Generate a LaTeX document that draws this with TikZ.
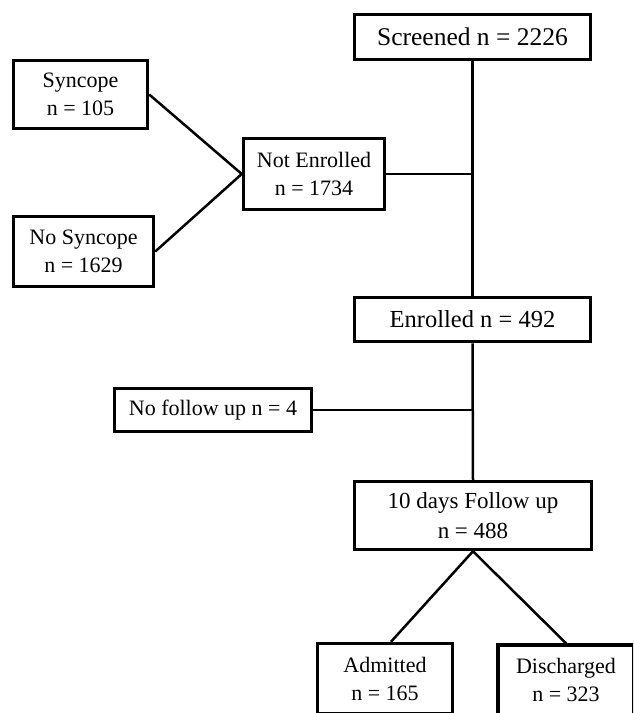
\documentclass[tikz,border=0pt]{standalone}
\usepackage{fontspec}
\setmainfont{Liberation Serif}
\usetikzlibrary{positioning}
\begin{document}
\begin{tikzpicture}[x=1pt,y=-1pt]
\tikzstyle{every node}+=[inner sep=0pt]
\tikzstyle{box}=[draw=black,line width=3.5pt,rectangle,align=center,
  font=\fontsize{22}{28}\selectfont]
\tikzstyle{link}=[draw=black,line width=2.5pt]
\useasboundingbox (0,0) rectangle (633,713);
\clip (0,0) rectangle (633,713);
\node [box,minimum width=236pt,minimum height=45pt,font=\fontsize{25.5}{30}\selectfont] (scr) at (472.5,37) {Screened n = 2226};
\node [box,minimum width=141pt,minimum height=71pt] (noten) at (314,174) {Not Enrolled\\n = 1734};
\node [box,minimum width=134pt,minimum height=68pt] (sync) at (80.5,94.5) {Syncope\\n = 105};
\node [box,minimum width=140pt,minimum height=70pt] (nosync) at (83.5,251.5) {No Syncope\\n = 1629};
\node [box,minimum width=236pt,minimum height=44pt,font=\fontsize{24.5}{30}\selectfont] (enr) at (472.5,319.5) {Enrolled n = 492};
\node [box,minimum width=197pt,minimum height=43pt] (nofu) at (213,410) {No follow up n = 4};
\node [box,minimum width=237pt,minimum height=68pt,font=\fontsize{23}{30}\selectfont] (fup) at (473,515.5) {10 days Follow up\\n = 488};
\node [box,minimum width=135pt,minimum height=70pt] (adm) at (385,678.5) {Admitted\\n = 165};
\node [box,minimum width=136pt,minimum height=70pt] (dis) at (566,680) {Discharged\\n = 323};
\draw [link] (scr.south) -- (enr.north);
\draw [link] (noten.east) -- (noten.east -| scr.south);
\draw [link] (sync.east) -- (noten.west);
\draw [link] (nosync.east) -- (noten.west);
\draw [link] (enr.south) -- (fup.north);
\draw [link] (nofu.east) -- (nofu.east -| enr.south);
\draw [link] (fup.south) -- ([xshift=6pt]adm.north);
\draw [link] (fup.south) -- (dis.north);
\end{tikzpicture}
\end{document}
